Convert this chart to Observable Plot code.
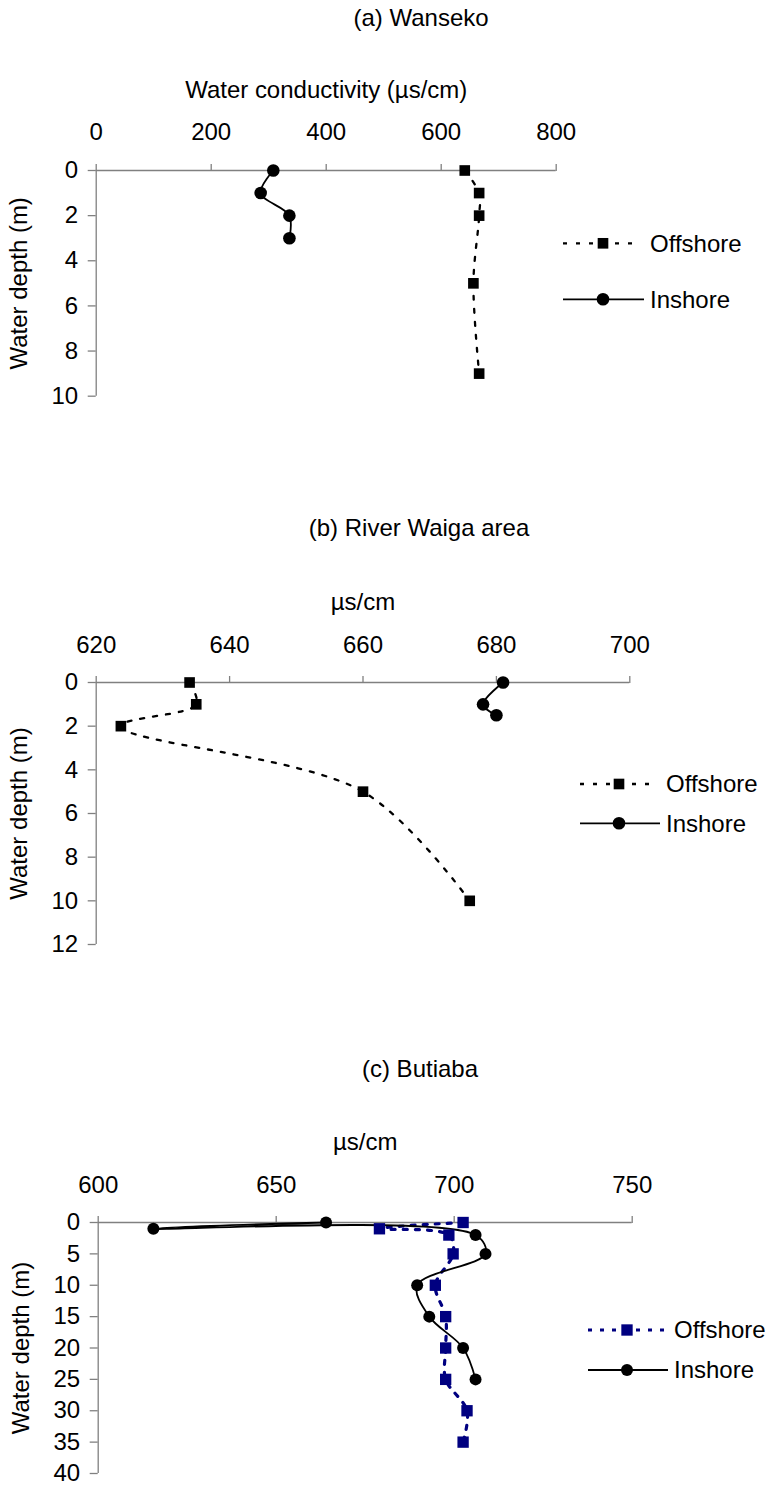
<!DOCTYPE html>
<html>
<head>
<meta charset="utf-8">
<script src="https://cdn.jsdelivr.net/npm/d3@7"></script>
<script src="https://cdn.jsdelivr.net/npm/@observablehq/plot@0.6"></script>
<style>
  html, body { margin: 0; padding: 0; background: #fff; }
  #root { position: relative; width: 767px; height: 1485px; font-family: "Liberation Sans", Arial, sans-serif; color: #000; overflow: hidden; }
  .abs { position: absolute; }
  .title { font-size: 24px; white-space: nowrap; transform: translate(-50%, -50%); }
</style>
</head>
<body>
<div id="root"></div>
<script>
// ---------------- DATA ----------------
// (a) Wanseko
const titleA = "(a) Wanseko";
const xLabelA = "Water conductivity (µs/cm)";
const xTicksA = [0, 200, 400, 600, 800];
const yTicksA = [0, 2, 4, 6, 8, 10];
const offDepthA = [0, 1, 2, 5, 9];
const offCondA  = [641, 666, 666, 656, 666];
const inDepthA  = [0, 1, 2, 3];
const inCondA   = [308, 286, 336, 336];

// (b) River Waiga area
const titleB = "(b) River Waiga area";
const xLabelB = "µs/cm";
const xTicksB = [620, 640, 660, 680, 700];
const yTicksB = [0, 2, 4, 6, 8, 10, 12];
const offDepthB = [0, 1, 2, 5, 10];
const offCondB  = [634, 635, 623.7, 660, 676];
const inDepthB  = [0, 1, 1.5];
const inCondB   = [681, 678, 680];

// (c) Butiaba
const titleC = "(c) Butiaba";
const xLabelC = "µs/cm";
const xTicksC = [600, 650, 700, 750];
const yTicksC = [0, 5, 10, 15, 20, 25, 30, 35, 40];
const offDepthC = [0, 1, 2, 5, 10, 15, 20, 25, 30, 35];
const offCondC  = [702.5, 679, 698.5, 699.7, 694.7, 697.6, 697.6, 697.6, 703.6, 702.5];
const inDepthC  = [0, 1, 2, 5, 10, 15, 20, 25];
const inCondC   = [664, 615.5, 706, 708.8, 689.6, 693, 702.5, 706];

const seriesNames = ["Offshore", "Inshore"];
const yLabel = "Water depth (m)";

// ---------------- LAYOUT ----------------
const FONT = '"Liberation Sans", Arial, sans-serif';
const root = document.getElementById("root");
const rows = (depths, conds) => depths.map((d, i) => ({depth: d, cond: conds[i]}));

function addText(text, cx, cy) {
  const el = document.createElement("div");
  el.className = "abs title";
  el.style.left = cx + "px";
  el.style.top = cy + "px";
  el.textContent = text;
  root.appendChild(el);
}

function panel(cfg) {
  const off = rows(cfg.offDepth, cfg.offCond);
  const ins = rows(cfg.inDepth, cfg.inCond);
  const chart = Plot.plot({
    width: 767,
    height: cfg.height,
    marginTop: 130,
    marginBottom: cfg.marginBottom,
    marginLeft: cfg.marginLeft,
    marginRight: cfg.marginRight,
    style: {fontSize: "24px", fontFamily: FONT, color: "#000", background: "transparent", overflow: "visible"},
    x: {domain: [cfg.xTicks[0], cfg.xTicks[cfg.xTicks.length - 1]]},
    y: {domain: [cfg.yTicks[0], cfg.yTicks[cfg.yTicks.length - 1]], reverse: true},
    marks: [
      Plot.ruleY([cfg.yTicks[0]], {stroke: "#808080", strokeWidth: 1.3}),
      Plot.ruleX([cfg.xTicks[0]], {stroke: "#808080", strokeWidth: 1.3}),
      Plot.axisX({anchor: "top", ticks: cfg.xTicks, tickFormat: d => String(d), tickSize: 7, tickPadding: 23,
        stroke: "#808080", strokeWidth: 1.3, fill: "#000", label: cfg.xLabel, labelAnchor: "center", labelOffset: 90, labelArrow: "none"}),
      Plot.axisY({anchor: "left", ticks: cfg.yTicks, tickFormat: d => String(d), tickSize: 8, tickPadding: 10,
        stroke: "#808080", strokeWidth: 1.3, fill: "#000", label: yLabel, labelAnchor: "center", labelOffset: 86, labelArrow: "none"}),
      Plot.line(off, {x: "cond", y: "depth", curve: "catmull-rom", stroke: cfg.offColor, strokeWidth: cfg.offWidth, strokeDasharray: cfg.dash}),
      Plot.line(ins, {x: "cond", y: "depth", curve: "catmull-rom", stroke: "#000", strokeWidth: 1.8}),
      Plot.dot(off, {x: "cond", y: "depth", symbol: "square", r: cfg.sqR, fill: cfg.offColor, stroke: "none"}),
      Plot.dot(ins, {x: "cond", y: "depth", symbol: "circle", r: cfg.cirR, fill: "#000", stroke: "none"})
    ]
  });
  chart.classList.add("abs");
  chart.style.left = "0px";
  chart.style.top = cfg.top + "px";
  root.appendChild(chart);

  addText(cfg.title, cfg.titleX, cfg.titleY);

  // legend
  const lg = cfg.legend;
  const svg = d3.select(root).append("svg")
    .attr("class", "abs")
    .style("left", "0px").style("top", "0px")
    .attr("width", 767).attr("height", 1485)
    .style("pointer-events", "none");
  const items = [
    {name: seriesNames[0], y: lg.offY, x1: lg.x1, x2: lg.offX2, color: cfg.offColor, dash: cfg.dash, w: cfg.offWidth, sym: "square"},
    {name: seriesNames[1], y: lg.inY, x1: lg.x1, x2: lg.inX2, color: "#000", dash: null, w: 1.8, sym: "circle"}
  ];
  for (const it of items) {
    svg.append("line").attr("x1", it.x1).attr("x2", it.x2).attr("y1", it.y).attr("y2", it.y)
      .attr("stroke", it.color).attr("stroke-width", it.w).attr("stroke-dasharray", it.dash);
    if (it.sym === "square") {
      const s = cfg.sqR * Math.sqrt(Math.PI);
      svg.append("rect").attr("x", lg.mx - s / 2).attr("y", it.y - s / 2).attr("width", s).attr("height", s).attr("fill", it.color);
    } else {
      svg.append("circle").attr("cx", lg.mx).attr("cy", it.y).attr("r", cfg.cirR).attr("fill", it.color);
    }
    svg.append("text").attr("x", lg.tx).attr("y", it.y).attr("dy", "0.35em")
      .attr("font-family", FONT).attr("font-size", 24).attr("fill", "#000").text(it.name);
  }
}

panel({
  title: titleA, titleX: 421, titleY: 18,
  xLabel: xLabelA, xTicks: xTicksA, yTicks: yTicksA,
  offDepth: offDepthA, offCond: offCondA, inDepth: inDepthA, inCond: inCondA,
  top: 40.3, height: 367.7, marginBottom: 12, marginLeft: 95.7, marginRight: 211.3,
  offColor: "#000", offWidth: 2.3, dash: "4,9", sqR: 6.0, cirR: 6.3,
  legend: {x1: 563, offX2: 640, inX2: 644, mx: 603, tx: 650, offY: 243.3, inY: 299.3}
});

panel({
  title: titleB, titleX: 419, titleY: 528,
  xLabel: xLabelB, xTicks: xTicksB, yTicks: yTicksB,
  offDepth: offDepthB, offCond: offCondB, inDepth: inDepthB, inCond: inCondB,
  top: 552.3, height: 404, marginBottom: 12, marginLeft: 95.7, marginRight: 137.7,
  offColor: "#000", offWidth: 2.3, dash: "4,9", sqR: 6.0, cirR: 6.3,
  legend: {x1: 580, offX2: 655, inX2: 660, mx: 619, tx: 666, offY: 784, inY: 823.3}
});

panel({
  title: titleC, titleX: 420, titleY: 1069,
  xLabel: xLabelC, xTicks: xTicksC, yTicks: yTicksC,
  offDepth: offDepthC, offCond: offCondC, inDepth: inDepthC, inCond: inCondC,
  top: 1092.3, height: 392, marginBottom: 11, marginLeft: 97.7, marginRight: 135.3,
  offColor: "#000080", offWidth: 3.2, dash: "4,8", sqR: 6.4, cirR: 6.0,
  legend: {x1: 588, offX2: 664, inX2: 668, mx: 627, tx: 674, offY: 1330, inY: 1370}
});
</script>
</body>
</html>
